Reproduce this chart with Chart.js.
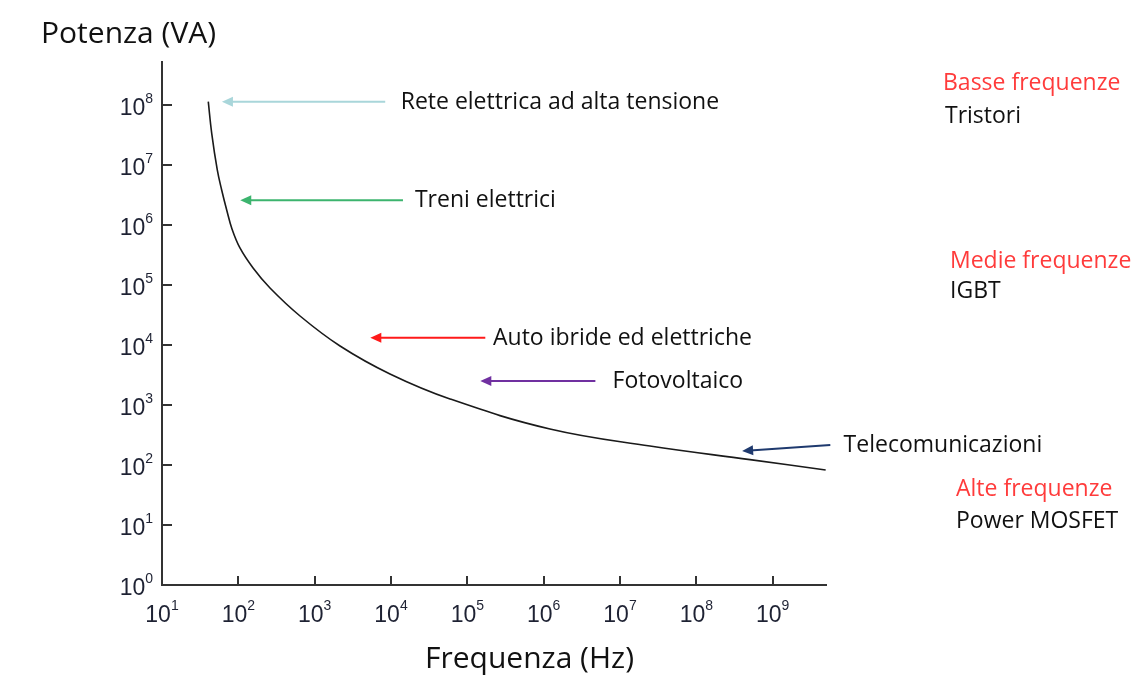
<!DOCTYPE html>
<html>
<head>
<meta charset="utf-8">
<script src="https://cdn.jsdelivr.net/npm/chart.js@4"></script>
<style>
  body { margin: 0; background: #fff; }
  #box { width: 1135px; height: 686px; }
</style>
</head>
<body>
<div id="box"><canvas id="potenzaChart"></canvas></div>
<script>
// curva potenza / frequenza
const frequenze = [40.4, 44.8, 53, 60.5, 70.4, 82.6, 105, 156, 260, 643, 2150, 9700, 59300, 1210000, 24700000, 505000000, 4950000000];
const potenze = [1.135e8, 3.37e7, 8.26e6, 3.83e6, 1.78e6, 8.58e5, 4.14e5, 1.92e5, 8.9e4, 3.04e4, 9620, 3290, 1260, 398, 207, 123, 82.5];

// esponenti delle etichette (10^n)
const espX = [1, 2, 3, 4, 5, 6, 7, 8, 9];
const espY = [0, 1, 2, 3, 4, 5, 6, 7, 8];

// frecce: testo, colore, coda (f, P), punta (f, P), inizio testo (f)
const applicazioni = ["Rete elettrica ad alta tensione", "Treni elettrici", "Auto ibride ed elettriche", "Fotovoltaico", "Telecomunicazioni"];
const coloriFrecce = ["#a9d6da", "#3cb46e", "#ff1a1a", "#7030a0", "#1f3a6e"];
const codaF = [8400, 14350, 172000, 4760000, 5.7e9];
const codaP = [1.13e8, 2.57e6, 1.32e4, 2510, 215];
const puntaF = [61, 106, 5360, 148000, 3.98e8];
const puntaP = [1.13e8, 2.57e6, 1.32e4, 2510, 171];
const testoF = [13400, 20600, 217000, 8000000, 8.5e9];

const famiglie = [
    { titolo: "Basse frequenze", disp: "Tristori", x: 943, y: 90, x2: 945, y2: 123 },
    { titolo: "Medie frequenze", disp: "IGBT", x: 950, y: 268, x2: 950, y2: 298 },
    { titolo: "Alte frequenze", disp: "Power MOSFET", x: 956, y: 496, x2: 956, y2: 528 },
];

const sup = (ctx, n, x, y, align) => {
    ctx.font = '23px "Liberation Sans", Arial, sans-serif';
    const w1 = ctx.measureText("10").width;
    ctx.font = '14px "Liberation Sans", Arial, sans-serif';
    const w2 = ctx.measureText(String(n)).width;
    let x0 = align === "right" ? x - w1 - w2 : x - (w1 + w2) / 2;
    ctx.textAlign = "left";
    ctx.textBaseline = "alphabetic";
    ctx.font = '23px "Liberation Sans", Arial, sans-serif';
    ctx.fillText("10", x0, y);
    ctx.font = '14px "Liberation Sans", Arial, sans-serif';
    ctx.fillText(String(n), x0 + w1, y - 12);
};

const decorazioni = {
    id: "decorazioni",
    afterDraw(chart) {
        const ctx = chart.ctx;
        const sx = chart.scales.x;
        const sy = chart.scales.y;
        ctx.save();

        // tacche interne
        ctx.strokeStyle = "#333";
        ctx.lineWidth = 2;
        espX.forEach(e => {
            const px = Math.round(sx.getPixelForValue(Math.pow(10, e)));
            ctx.beginPath();
            ctx.moveTo(px, sy.bottom);
            ctx.lineTo(px, sy.bottom - 9);
            ctx.stroke();
        });
        espY.forEach(e => {
            const py = Math.round(sy.getPixelForValue(Math.pow(10, e)));
            ctx.beginPath();
            ctx.moveTo(sx.left, py);
            ctx.lineTo(sx.left + 10, py);
            ctx.stroke();
        });

        // etichette
        ctx.fillStyle = "#1e2233";
        espX.forEach(e => sup(ctx, e, sx.getPixelForValue(Math.pow(10, e)), sy.bottom + 37, "center"));
        espY.forEach(e => sup(ctx, e, sx.left - 9, sy.getPixelForValue(Math.pow(10, e)) + 10, "right"));

        // titoli assi
        ctx.fillStyle = "#111";
        ctx.textAlign = "left";
        ctx.font = '30px "Open Sans", sans-serif';
        ctx.fillText("Potenza (VA)", 41, 43);
        ctx.fillText("Frequenza (Hz)", 425, 668);

        // frecce
        applicazioni.forEach((t, i) => {
            const x1 = sx.getPixelForValue(codaF[i]);
            const y1 = sy.getPixelForValue(codaP[i]);
            const x2 = sx.getPixelForValue(puntaF[i]);
            const y2 = sy.getPixelForValue(puntaP[i]);
            const a = Math.atan2(y2 - y1, x2 - x1);
            ctx.strokeStyle = coloriFrecce[i];
            ctx.fillStyle = coloriFrecce[i];
            ctx.lineWidth = 2;
            ctx.beginPath();
            ctx.moveTo(x1, y1);
            ctx.lineTo(x2 - 8 * Math.cos(a), y2 - 8 * Math.sin(a));
            ctx.stroke();
            ctx.beginPath();
            ctx.moveTo(x2, y2);
            ctx.lineTo(x2 - 11 * Math.cos(a) - 5 * Math.sin(a), y2 - 11 * Math.sin(a) + 5 * Math.cos(a));
            ctx.lineTo(x2 - 11 * Math.cos(a) + 5 * Math.sin(a), y2 - 11 * Math.sin(a) - 5 * Math.cos(a));
            ctx.closePath();
            ctx.fill();

            ctx.fillStyle = "#111";
            ctx.font = '23px "Open Sans", sans-serif';
            ctx.textBaseline = "alphabetic";
            ctx.fillText(t, sx.getPixelForValue(testoF[i]), y1 + 7);
        });

        // famiglie di dispositivi
        famiglie.forEach(f => {
            ctx.font = '23px "Open Sans", sans-serif';
            ctx.fillStyle = "#ff3b3b";
            ctx.fillText(f.titolo, f.x, f.y);
            ctx.fillStyle = "#111";
            ctx.fillText(f.disp, f.x2, f.y2);
        });
        ctx.restore();
    }
};

const potenzaData = {
    datasets: [
        {
            label: "Potenza",
            data: frequenze.map((f, i) => ({ x: f, y: potenze[i] })),
            borderColor: "#1a1a1a",
            borderWidth: 1.6,
            pointRadius: 0,
            tension: 0.4,
            fill: false,
        },
    ],
}

const potenzaConfig = {
    type: "line",
    data: potenzaData,
    plugins: [decorazioni],
    options: {
        responsive: true,
        maintainAspectRatio: false,
        animation: false,
        layout: { padding: { top: 62, right: 309, left: 0, bottom: 0 } },
        plugins: {
            legend: { display: false },
            tooltip: { enabled: false },
        },
        scales: {
            x: {
                type: "logarithmic",
                min: 10,
                max: 5e9,
                grid: { display: false },
                border: { display: true, color: "#333", width: 2 },
                ticks: { display: false },
                afterFit: scale => { scale.height = 101; },
            },
            y: {
                type: "logarithmic",
                min: 1,
                max: 5.2e8,
                grid: { display: false },
                border: { display: true, color: "#333", width: 2 },
                ticks: { display: false },
                afterFit: scale => { scale.width = 162; },
            },
        },
    },
}

const potenzaCanvas = document.getElementById('potenzaChart')
const potenzaChart = new Chart(potenzaCanvas, potenzaConfig);
</script>
</body>
</html>
